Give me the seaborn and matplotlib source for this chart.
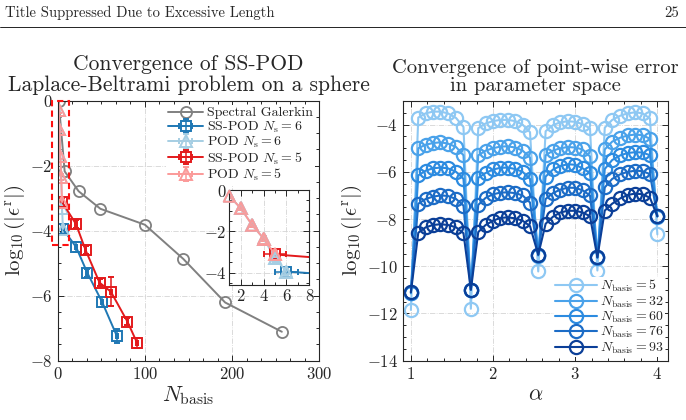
import numpy as np
import pandas as pd
import matplotlib
matplotlib.use("Agg")
import matplotlib.pyplot as plt
import seaborn as sns
from matplotlib.ticker import MultipleLocator
from matplotlib.patches import Rectangle
from matplotlib.lines import Line2D

sns.set_style("ticks")
plt.rcParams.update({
    "font.family": ["cmr10", "DejaVu Serif"],
    "mathtext.fontset": "cm",
    "axes.unicode_minus": False,
    "axes.formatter.use_mathtext": True,
})

# ---------------- left panel data ----------------
sg_n = [1, 8, 24, 49, 100, 144, 192, 257]
sg_err = [0.0, -2.18, -2.79, -3.33, -3.82, -4.87, -6.21, -7.11]

sspod6_n = [6, 21, 34, 51, 68]
sspod6_err = [-3.95, -4.50, -5.30, -6.20, -7.25]
sspod6_yerr = [0.12, 0.15, 0.12, 0.15, 0.22]

pod6_n = [1, 2, 3, 4, 5, 6]
pod6_err = [-0.30, -0.88, -1.70, -2.35, -3.30, -3.95]
pod6_yerr = [0.08, 0.08, 0.1, 0.1, 0.2, 0.15]

sspod5_n = [5, 21, 32, 48, 61, 80, 91]
sspod5_err = [-3.12, -3.80, -4.60, -5.60, -5.88, -6.80, -7.45]
sspod5_yerr = [0.12, 0.12, 0.12, 0.10, 0.45, 0.10, 0.15]

pod5_n = [1, 2, 3, 4, 5]
pod5_err = [-0.30, -0.88, -1.70, -2.35, -3.12]
pod5_yerr = [0.08, 0.08, 0.1, 0.1, 0.15]

# ---------------- right panel data ----------------
alpha = [1.00, 1.09, 1.18, 1.27, 1.36, 1.45, 1.55, 1.64, 1.73, 1.82, 1.91, 2.00,
         2.09, 2.18, 2.27, 2.36, 2.45, 2.55, 2.64, 2.73, 2.82, 2.91, 3.00, 3.09,
         3.18, 3.27, 3.36, 3.45, 3.55, 3.64, 3.73, 3.82, 3.91, 4.00]

err_n5 = [-11.85, -3.70, -3.52, -3.45, -3.45, -3.52, -3.72, -4.10,
          -11.80, -4.15, -3.95, -3.85, -3.80, -3.80, -3.85, -4.00, -4.32,
          -10.22, -4.28, -4.02, -3.90, -3.86, -3.88, -3.98, -4.16,
          -10.18, -4.13, -3.80, -3.62, -3.52, -3.48, -3.52, -3.74, -8.65]
err_n32 = [-11.15, -5.00, -4.85, -4.78, -4.75, -4.80, -4.95, -5.30,
           -11.00, -5.30, -5.10, -5.00, -4.93, -4.92, -4.97, -5.10, -5.40,
           -9.55, -5.30, -5.10, -5.00, -4.95, -4.97, -5.05, -5.35,
           -9.65, -5.05, -4.72, -4.55, -4.46, -4.42, -4.45, -4.60, -7.90]
err_n60 = [-11.12, -6.15, -5.95, -5.85, -5.82, -5.85, -6.00, -6.30,
           -11.00, -6.25, -6.05, -5.90, -5.83, -5.82, -5.88, -6.00, -6.30,
           -9.52, -6.20, -5.90, -5.75, -5.68, -5.70, -5.85, -6.05,
           -9.62, -5.88, -5.50, -5.30, -5.20, -5.17, -5.18, -5.30, -7.88]
err_n76 = [-11.10, -7.35, -7.15, -7.05, -7.00, -7.02, -7.15, -7.43,
           -10.99, -7.40, -7.10, -6.95, -6.88, -6.87, -6.90, -7.00, -7.30,
           -9.51, -7.15, -6.90, -6.75, -6.67, -6.68, -6.78, -7.00,
           -9.62, -6.66, -6.30, -6.10, -6.00, -5.95, -5.97, -6.10, -7.88]
err_n93 = [-11.10, -8.58, -8.35, -8.25, -8.22, -8.25, -8.35, -8.60,
           -10.99, -8.55, -8.25, -8.07, -7.95, -7.93, -7.97, -8.07, -8.30,
           -9.51, -8.20, -7.90, -7.72, -7.65, -7.65, -7.72, -7.88,
           -9.62, -7.64, -7.35, -7.12, -6.98, -6.92, -6.95, -7.10, -7.88]

nbasis_labels = [5, 32, 60, 76, 93]
right_series = [err_n5, err_n32, err_n60, err_n76, err_n93]
right_colors = ["#8ec8f3", "#4aa2ea", "#2c8be0", "#1c6cc6", "#0b3f98"]

C_SG = "#808080"
C_SS6 = "#1f78b4"
C_P6 = "#a6cee3"
C_SS5 = "#e31a1c"
C_P5 = "#fb9a99"

fig = plt.figure(figsize=(6.86, 4.2), dpi=100)

# header
fig.text(0.008, 1 - 13 / 420, "Title Suppressed Due to Excessive Length",
         fontsize=10.5, va="center", ha="left")
fig.text(0.99, 1 - 13 / 420, "25", fontsize=10.5, va="center", ha="right")
fig.add_artist(Line2D([0, 1], [1 - 27 / 420] * 2, lw=0.6, color="black"))

grid_kw = dict(ls="-.", color="#d5d5d5", lw=0.6)


def style_axes(ax):
    ax.tick_params(which="both", direction="in", top=True, right=True,
                   labelsize=12, width=0.7, color="#262626")
    ax.tick_params(which="major", length=4)
    ax.tick_params(which="minor", length=2)
    for s in ax.spines.values():
        s.set_linewidth(0.8)
        s.set_color("#262626")
    ax.grid(True, which="major", **grid_kw)
    ax.set_axisbelow(True)


def draw_left(ax, legend=True, with_sg=True):
    if with_sg:
        sns.lineplot(x=sg_n, y=sg_err, ax=ax, color=C_SG, marker="o",
                     markersize=8, mfc="none", mec=C_SG, mew=1.3,
                     lw=1.4, label="Spectral Galerkin" if legend else None,
                     sort=False, legend=False)
    ebkw = dict(lw=1.4, mew=1.4, mfc="none", capsize=2.5, elinewidth=1.1,
                capthick=1.1)
    ax.errorbar(sspod6_n, sspod6_err, yerr=sspod6_yerr, xerr=1.0, color=C_SS6,
                marker="s", ms=7, label=r"SS-POD $N_\mathrm{s}=6$", **ebkw)
    ax.errorbar(pod6_n, pod6_err, yerr=pod6_yerr, xerr=0.1, color=C_P6,
                marker="^", ms=8, label=r"POD $N_\mathrm{s}=6$", **ebkw)
    ax.errorbar(sspod5_n, sspod5_err, yerr=sspod5_yerr, xerr=1.0, color=C_SS5,
                marker="s", ms=7, label=r"SS-POD $N_\mathrm{s}=5$", **ebkw)
    ax.errorbar(pod5_n, pod5_err, yerr=pod5_yerr, xerr=0.1, color=C_P5,
                marker="^", ms=8, label=r"POD $N_\mathrm{s}=5$", **ebkw)


# ---------------- left panel ----------------
axL = fig.add_axes([0.0841, 0.1412, 0.3814, 0.6195])
draw_left(axL)
axL.set_xlim(0, 300)
axL.set_ylim(-8, 0)
axL.set_xticks([0, 100, 200, 300])
axL.set_yticks([-8, -6, -4, -2, 0])
axL.xaxis.set_minor_locator(MultipleLocator(100 / 6))
axL.yaxis.set_minor_locator(MultipleLocator(0.5))
style_axes(axL)
axL.set_xlabel(r"$N_\mathrm{basis}$", fontsize=16, labelpad=2)
axL.set_ylabel(r"$\log_{10}(|\epsilon^\mathrm{r}|)$", fontsize=15, labelpad=2)
axL.set_title("Convergence of SS-POD\nLaplace-Beltrami problem on a sphere",
              fontsize=15.5, pad=7, linespacing=1.05)
axL.legend(loc="upper right", fontsize=10, frameon=True, framealpha=1,
           edgecolor="none", fancybox=False, borderpad=0.15,
           handlelength=2.5, handletextpad=0.3, labelspacing=0.0,
           borderaxespad=0.3)
axL.add_patch(Rectangle((-6.5, -4.45), 19.5, 4.45, fill=False, ec="#ff1010",
                        ls=(0, (3, 2)), lw=1.5, clip_on=False, zorder=5))

# inset (zoom on the first few basis functions)
axI = fig.add_axes([0.3343, 0.3214, 0.1166, 0.2262])
draw_left(axI, legend=False, with_sg=False)
sns.scatterplot(x=pod6_n, y=pod6_err, ax=axI, marker="^", s=64, fc="none",
                ec=C_P6, lw=1.4, clip_on=False, zorder=6, legend=False)
sns.scatterplot(x=pod5_n, y=pod5_err, ax=axI, marker="^", s=64, fc="none",
                ec=C_P5, lw=1.4, clip_on=False, zorder=7, legend=False)
axI.set_xlim(1, 8)
axI.set_ylim(-4.6, 0)
axI.set_xticks([2, 4, 6, 8])
axI.set_yticks([-4, -2, 0])
axI.xaxis.set_minor_locator(MultipleLocator(1))
axI.yaxis.set_minor_locator(MultipleLocator(0.5))
style_axes(axI)
axI.tick_params(labelsize=12, pad=2)
axI.set_xlabel("")
axI.set_ylabel("")

# ---------------- right panel ----------------
axR = fig.add_axes([0.587, 0.1412, 0.3868, 0.6183])
for lab, vals, col in zip(nbasis_labels, right_series, right_colors):
    sns.lineplot(x=alpha, y=vals, ax=axR, color=col, marker="o", markersize=9.5,
                 mfc="none", mec=col, mew=1.6, lw=1.5, sort=False,
                 label=rf"$N_\mathrm{{basis}} = {lab}$")
axR.set_xlim(0.9, 4.13)
axR.set_ylim(-14, -3)
axR.set_xticks([1, 2, 3, 4])
axR.set_yticks([-14, -12, -10, -8, -6, -4])
axR.xaxis.set_minor_locator(MultipleLocator(0.2))
axR.yaxis.set_minor_locator(MultipleLocator(0.5))
style_axes(axR)
axR.set_xlabel(r"$\alpha$", fontsize=16, labelpad=2)
axR.set_ylabel(r"$\log_{10}(|\epsilon^\mathrm{r}|)$", fontsize=15, labelpad=2)
axR.set_title("Convergence of point-wise error\nin parameter space",
              fontsize=14.8, pad=7, linespacing=1.05)
axR.legend(loc="lower right", fontsize=10, frameon=True, framealpha=1,
           edgecolor="none", fancybox=False, borderpad=0.1, handlelength=3.0,
           handletextpad=0.2, labelspacing=0.0, borderaxespad=0.25)

fig.savefig("out.png", dpi=100)
